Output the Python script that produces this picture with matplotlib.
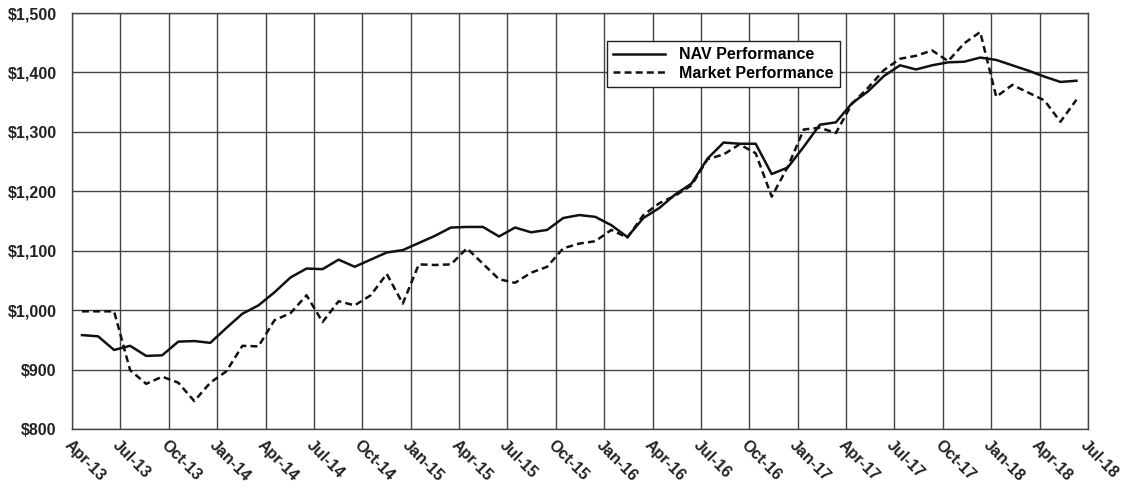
import numpy as np
import matplotlib
matplotlib.use("Agg")
import matplotlib.pyplot as plt
from matplotlib import font_manager

# monthly values, first point mid Apr-13, last mid Jun-18
nav = [958, 956, 933, 940, 923, 924, 947, 948, 945, 970,
       994, 1008, 1030, 1055, 1070, 1069, 1085, 1073, 1085, 1097,
       1101, 1113, 1125, 1139, 1140, 1140, 1124, 1139, 1131, 1135,
       1155, 1160, 1157, 1143, 1123, 1155, 1172, 1195, 1213, 1255,
       1282, 1280, 1280, 1229, 1240, 1275, 1312, 1316, 1348, 1368,
       1394, 1412, 1405, 1412, 1417, 1418, 1425, 1421, 1412, 1403,
       1393, 1384, 1386]
market = [998, 998, 998, 899, 876, 888, 878, 847, 878, 897,
          940, 939, 983, 995, 1025, 980, 1015, 1008, 1025, 1061,
          1011, 1077, 1076, 1077, 1104, 1078, 1052, 1046, 1063, 1073,
          1104, 1112, 1116, 1135, 1122, 1160, 1180, 1193, 1210, 1254,
          1262, 1279, 1264, 1191, 1241, 1304, 1307, 1298, 1347, 1374,
          1404, 1423, 1428, 1437, 1419, 1449, 1468, 1359, 1379, 1366,
          1353, 1317, 1354]
tick_labels = ["Apr-13", "Jul-13", "Oct-13", "Jan-14", "Apr-14", "Jul-14",
               "Oct-14", "Jan-15", "Apr-15", "Jul-15", "Oct-15", "Jan-16",
               "Apr-16", "Jul-16", "Oct-16", "Jan-17", "Apr-17", "Jul-17",
               "Oct-17", "Jan-18", "Apr-18", "Jul-18"]
y_ticks = [800, 900, 1000, 1100, 1200, 1300, 1400, 1500]

plt.rcParams["font.family"] = ["Liberation Sans", "DejaVu Sans"]
plt.rcParams["font.weight"] = "bold"
plt.rcParams["lines.scale_dashes"] = False

# condensed face for the date labels if it is there
names = {f.name for f in font_manager.fontManager.ttflist}
if "Liberation Sans Narrow" in names:
    xfont, xsize = ["Liberation Sans Narrow", "Liberation Sans"], 13.5
else:
    xfont, xsize = ["Liberation Sans", "DejaVu Sans"], 11.5

fig = plt.figure(figsize=(11.31, 4.94), dpi=100)
ax = fig.add_axes([72 / 1131, 1 - 429 / 494, (1088 - 72) / 1131, (429 - 13) / 494])

x = np.arange(len(nav))
ax.plot(x, nav, color="#111111", lw=1.8, label="NAV Performance", zorder=3)
ax.plot(x, market, color="#111111", lw=1.8, dashes=(5, 3),
        label="Market Performance", zorder=3)

xmin, xmax = -0.623, 62.72
ax.set_xlim(xmin, xmax)
ax.set_ylim(800, 1500)
ax.set_xticks(np.linspace(xmin, xmax, len(tick_labels)))
ax.set_xticklabels(tick_labels, rotation=-45, ha="left", va="top",
                   rotation_mode="anchor", fontsize=xsize, fontweight="bold",
                   family=xfont)
ax.set_yticks(y_ticks)
ax.set_yticklabels([f"${v:,}" for v in y_ticks], fontsize=11.5, fontweight="bold")
ax.tick_params(axis="both", length=0, colors="#222222")
ax.tick_params(axis="y", pad=11)
ax.tick_params(axis="x", pad=6)

ax.grid(True, color="#444444", lw=1.0)
ax.set_axisbelow(True)
for s in ax.spines.values():
    s.set_color("#444444")
    s.set_linewidth(1.0)

leg = ax.legend(loc="upper left", bbox_to_anchor=(607 / 1131, 1 - 41 / 494),
                bbox_transform=fig.transFigure, borderaxespad=0,
                frameon=True, fancybox=False,
                edgecolor="#222222", framealpha=1, handlelength=3.2,
                handletextpad=0.9, labelspacing=0.2, borderpad=0.4,
                prop={"size": 11.5, "weight": "bold"})
leg.get_frame().set_linewidth(1.0)

fig.savefig("out.png", dpi=100)
